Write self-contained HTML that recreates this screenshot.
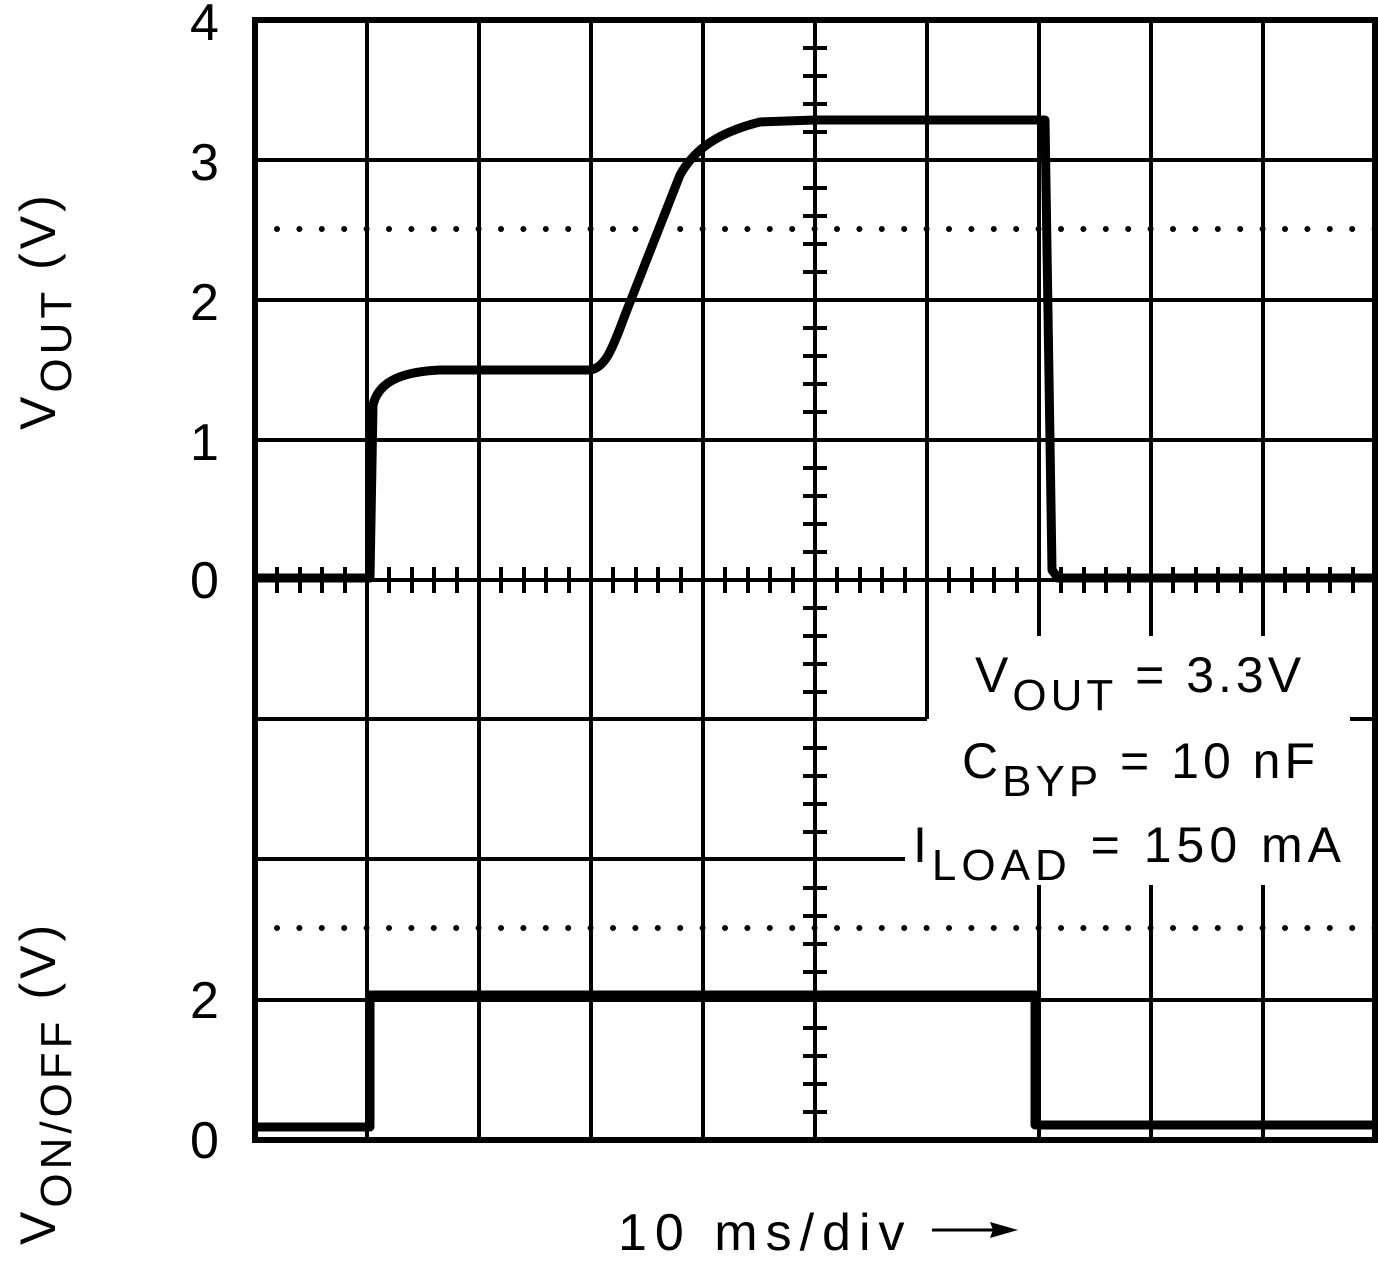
<!DOCTYPE html><html><head><style>body{margin:0;background:#fff}svg{display:block}text{font-family:"Liberation Sans",sans-serif;fill:#000}</style></head><body>
<svg width="1378" height="1262" viewBox="0 0 1378 1262" xmlns="http://www.w3.org/2000/svg">
<g stroke="#000" stroke-width="4" fill="none">
<path d="M367 20V1140M479 20V1140M591 20V1140M703 20V1140M927 20V719M1151 20V636M1263 20V636M1151 885V1140M1263 885V1140M1039 20V636M1039 885V1140"/>
<path d="M255 160H1375M255 300H1375M255 440H1375M255 580H1375M255 719H927M255 859H905M255 1000H1375M1350 719H1375"/>
<path d="M815 20V1140"/>
</g>
<g stroke="#000" stroke-width="4">
<path d="M803 48H827M803 76H827M803 104H827M803 132H827M803 188H827M803 216H827M803 244H827M803 272H827M803 328H827M803 356H827M803 384H827M803 412H827M803 468H827M803 496H827M803 524H827M803 552H827M803 608H827M803 636H827M803 664H827M803 692H827M803 748H827M803 776H827M803 804H827M803 832H827M803 888H827M803 916H827M803 944H827M803 972H827M803 1028H827M803 1056H827M803 1084H827M803 1112H827"/>
<path d="M277 567V593M300 567V593M322 567V593M345 567V593M389 567V593M412 567V593M434 567V593M457 567V593M501 567V593M524 567V593M546 567V593M569 567V593M613 567V593M636 567V593M658 567V593M681 567V593M725 567V593M748 567V593M770 567V593M793 567V593M837 567V593M860 567V593M882 567V593M905 567V593M949 567V593M972 567V593M994 567V593M1017 567V593M1061 567V593M1084 567V593M1106 567V593M1129 567V593M1173 567V593M1196 567V593M1218 567V593M1241 567V593M1285 567V593M1308 567V593M1330 567V593M1353 567V593"/>
</g>
<g stroke="#000" stroke-width="6" stroke-linecap="round" stroke-dasharray="0 22.4">
<path d="M277 229H1375M277 928H1375"/>
</g>
<rect x="255" y="20" width="1120" height="1120" fill="none" stroke="#000" stroke-width="6"/>
<g stroke="#000" stroke-width="9" fill="none" stroke-linejoin="round">
<path d="M255 578H370L373 405C378 385 395 372 440 370L590 370C605 368 612 350 625 315L680 175C695 148 720 132 760 122L815 120L1045 120L1052 570L1058 578H1375"/>
<path d="M255 1127H370V995H1035V1125H1375"/>
</g>
<g font-size="52">
<text x="190" y="40">4</text><text x="190" y="180">3</text><text x="190" y="320">2</text><text x="190" y="460">1</text><text x="190" y="598">0</text><text x="190" y="1018">2</text><text x="190" y="1158">0</text>
<text x="618" y="1250" font-size="52" letter-spacing="8">10 ms/div</text>
</g>
<path d="M932 1230H1005" stroke="#000" stroke-width="3"/><path d="M1018 1230L990 1222L993 1230L990 1238Z" fill="#000"/>
<g font-size="50" letter-spacing="4">
<text x="975" y="692">V<tspan font-size="44" dy="18">OUT</tspan><tspan dy="-18"> = 3.3V</tspan></text>
<text x="962" y="778">C<tspan font-size="44" dy="18">BYP</tspan><tspan dy="-18"> = 10 nF</tspan></text>
<text x="913" y="862" letter-spacing="5">I<tspan font-size="44" dy="18">LOAD</tspan><tspan dy="-18"> = 150 mA</tspan></text>
</g>
<g font-size="50" letter-spacing="4">
<text transform="translate(55,430) rotate(-90)">V<tspan font-size="44" dy="16">OUT</tspan><tspan dy="-16">  (V)</tspan></text>
<text transform="translate(55,1245) rotate(-90)">V<tspan font-size="44" dy="16">ON/OFF</tspan><tspan dy="-16">  (V)</tspan></text>
</g>
</svg></body></html>
